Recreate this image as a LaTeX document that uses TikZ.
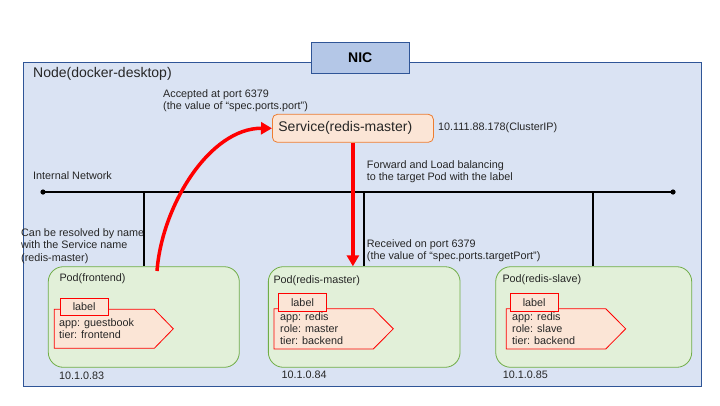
\documentclass[tikz,border=0pt]{standalone}
\usepackage{fontspec}
\setmainfont{Liberation Sans}
\usetikzlibrary{arrows.meta}
\definecolor{nodefill}{HTML}{DAE3F3}
\definecolor{nodeline}{HTML}{2F5597}
\definecolor{nicfill}{HTML}{B4C7E7}
\definecolor{svcfill}{HTML}{FBE5D6}
\definecolor{svcline}{HTML}{ED7D31}
\definecolor{podfill}{HTML}{E2F0D9}
\definecolor{podline}{HTML}{70AD47}
\definecolor{txt}{HTML}{262626}
\begin{document}
\begin{tikzpicture}[x=1pt,y=-1pt,
  small/.style={text=txt,font=\fontsize{10.8}{12.2}\selectfont,anchor=west,inner sep=0pt,align=left},
  big/.style={text=txt,font=\fontsize{14}{16}\selectfont},
  podbox/.style={draw=podline,fill=podfill,rounded corners=15pt,line width=0.8pt,minimum height=100.6pt,inner sep=0pt},
  tagbody/.style={draw=red,fill=svcfill,line width=0.8pt},
  labelbox/.style={draw=red,fill=svcfill,line width=1pt,minimum width=48.3pt,minimum height=17.6pt,inner sep=0pt,text=txt,font=\fontsize{10.8}{12}\selectfont},
  link/.style={line width=1.6pt},
  redarrow/.style={draw=red,line width=3.5pt,-{Triangle[length=11pt,width=12pt]}}]
\fill[white] (0,0) rectangle (720,405);
\useasboundingbox (0,0) rectangle (720,405);
\node[draw=nodeline,fill=nodefill,line width=1pt,minimum width=678pt,minimum height=323.4pt,anchor=north west,inner sep=0pt] (k8snode) at (23.3,62.3) {};
\node[draw=nodeline,fill=nicfill,line width=1pt,minimum width=98pt,minimum height=31pt,font=\bfseries\fontsize{14}{16}\selectfont] (nic) at (360.3,57.8) {NIC};
\node[big,anchor=west,inner sep=0pt] (nodetitle) at (33,73.5) {Node(docker-desktop)};
\node[small] (accepted) at (163,101) {Accepted at port 6379\\(the value of “spec.ports.port”)};
\node[big,draw=svcline,fill=svcfill,rounded corners=5pt,line width=0.8pt,anchor=west,minimum height=28pt,text width=149pt,inner xsep=6pt,align=left] (service) at (272,128.3) {Service(redis-master)};
\node[small] (clusterip) at (438,127.7) {10.111.88.178(ClusterIP)};
\node[small] (forward) at (366.7,172) {Forward and Load balancing\\to the target Pod with the label};
\node[small] (internal) at (33,175.7) {Internal Network};
\coordinate (netL) at (43,192);
\coordinate (netR) at (673,192);
\draw[link] (netL) -- (netR);
\fill (netL) circle[radius=2.6];
\fill (netR) circle[radius=2.6];
\node[small] (resolve) at (21,246) {Can be resolved by name\\with the Service name\\(redis-master)};
\node[small] (received) at (366.7,251) {Received on port 6379\\(the value of “spec.ports.targetPort”)};
\node[podbox,minimum width=191pt] (frontend) at (143.8,317) {};
\node[podbox,minimum width=191.7pt] (master) at (364.2,317) {};
\node[podbox,minimum width=196pt] (slave) at (593.7,317) {};
\coordinate (tapF) at (144,192);
\coordinate (tapM) at (364,192);
\coordinate (tapS) at (593,192);
\draw[link] (tapF) -- (tapF |- frontend.north);
\draw[link] (tapM) -- (tapM |- master.north);
\draw[link] (tapS) -- (tapS |- slave.north);
\node[small] (fetitle) at (59.3,279) {Pod(frontend)};
\node[small] (matitle) at (273.3,280.3) {Pod(redis-master)};
\node[small] (sltitle) at (502.3,280) {Pod(redis-slave)};
\draw[tagbody] (54.3,309.3) -- (154.3,309.3) -- (173.3,328.8) -- (154.3,348.3) -- (54.3,348.3) -- cycle;
\draw[tagbody] (274,308.7) -- (373.3,308.7) -- (393.3,328.8) -- (373.3,349) -- (274,349) -- cycle;
\draw[tagbody] (506.3,308.7) -- (605.7,308.7) -- (625.7,328.8) -- (605.7,349) -- (506.3,349) -- cycle;
\node[labelbox] (felabel) at (84.2,307) {label};
\node[labelbox] (malabel) at (302.5,302.2) {label};
\node[labelbox] (sllabel) at (534.2,302.2) {label};
\node[small] (fetags) at (59,328.5) {app: guestbook\\tier: frontend};
\node[small] (matags) at (280,328.5) {app: redis\\role: master\\tier: backend};
\node[small] (sltags) at (512,328.5) {app: redis\\role: slave\\tier: backend};
\node[small] (feip) at (59,375.7) {10.1.0.83};
\node[small] (maip) at (281.3,375) {10.1.0.84};
\node[small] (slip) at (502.7,375) {10.1.0.85};
\coordinate (feout) at (157,271);
\draw[redarrow] (feout) .. controls (162,205) and (210,128) .. (service.west);
\draw[redarrow] (service.south) -- (service.south |- master.north);
\end{tikzpicture}
\end{document}
